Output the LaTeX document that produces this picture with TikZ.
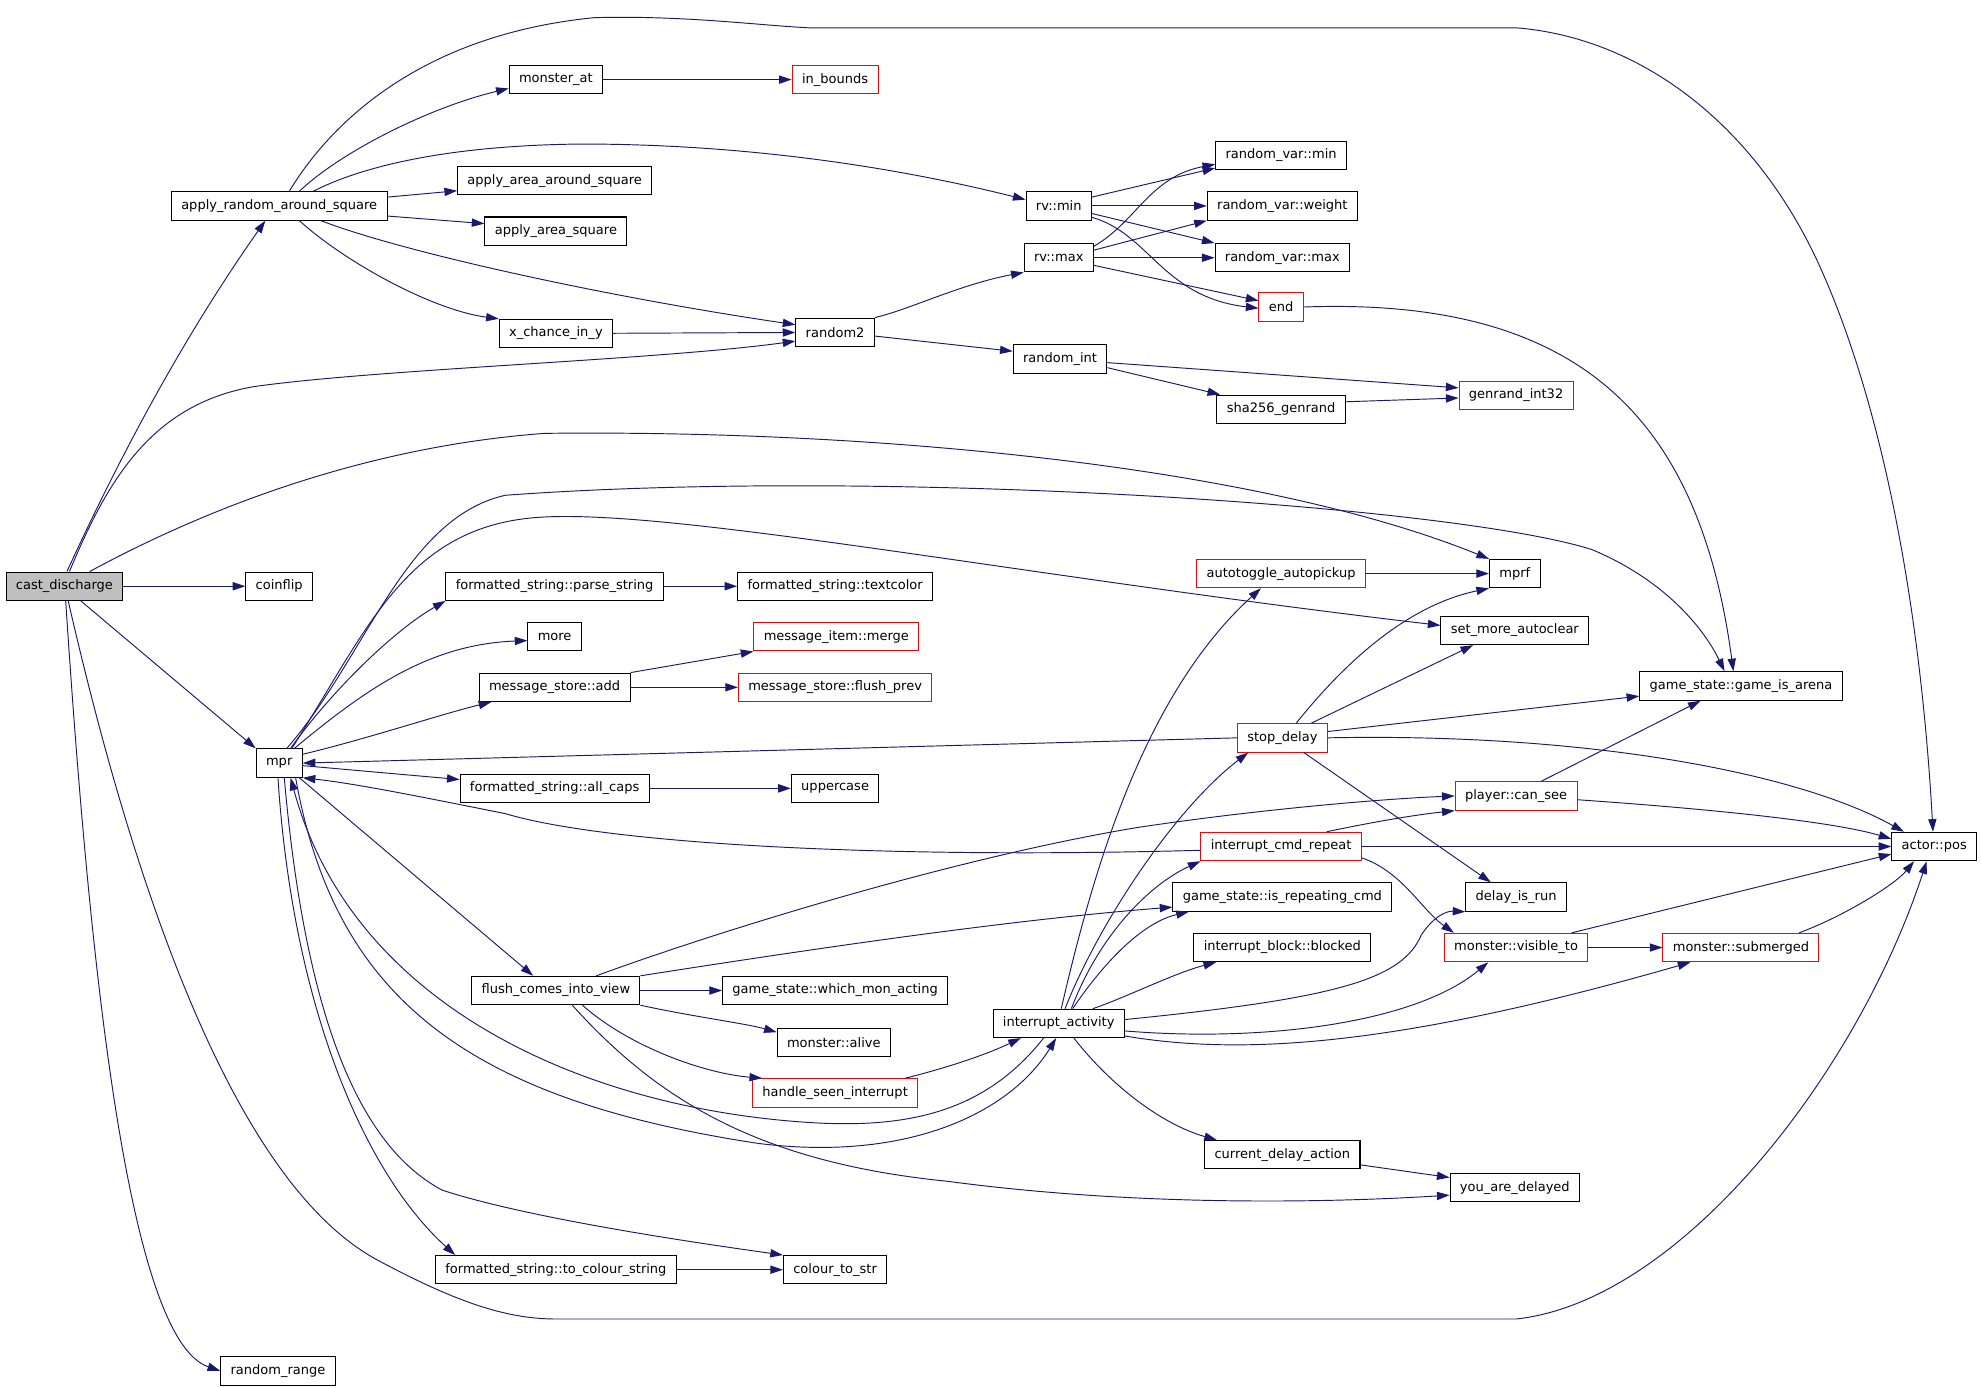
\documentclass[tikz,border=0pt]{standalone}
\usepackage{fontspec}
\setmainfont{DejaVu Sans}
\usetikzlibrary{arrows.meta}
\definecolor{edgeblue}{HTML}{191970}
\definecolor{rootgray}{HTML}{BFBFBF}

\begin{document}
\begin{tikzpicture}[x=1pt,y=-1pt,>={Triangle[length=10pt,width=6.5pt]},
    fn/.style={draw,line width=0.8pt,rectangle,minimum height=22.5pt,inner xsep=7.8pt,inner ysep=0pt,font=\fontsize{10.3}{12}\selectfont},
    fnext/.style={fn,draw=red},
    calls/.style={->,draw=edgeblue,line width=0.75pt}]
\useasboundingbox (0,0) rectangle (1568,1098.6);

\node[fn,fill=rootgray] (cast) at (51,464) {cast\_discharge};
\node[fn] (aras) at (221,163) {apply\_random\_around\_square};
\node[fn] (coinflip) at (221,464) {coinflip};
\node[fn] (mpr) at (221,604) {mpr};
\node[fn] (rrange) at (220,1085) {random\_range};
\node[fn] (monat) at (440,63) {monster\_at};
\node[fn] (aaas) at (439,143) {apply\_area\_around\_square};
\node[fn] (aas) at (440,183) {apply\_area\_square};
\node[fn] (xchance) at (440,264) {x\_chance\_in\_y};
\node[fn] (parse) at (439,464) {formatted\_string::parse\_string};
\node[fn] (more) at (439,504) {more};
\node[fn] (msadd) at (439,544) {message\_store::add};
\node[fn] (allcaps) at (439,624) {formatted\_string::all\_caps};
\node[fn] (flush) at (440,784) {flush\_comes\_into\_view};
\node[fn] (tocol) at (440,1005) {formatted\_string::to\_colour\_string};
\node[fnext] (inb) at (661,63) {in\_bounds};
\node[fn] (rand2) at (661,263) {random2};
\node[fn] (textcolor) at (661,464) {formatted\_string::textcolor};
\node[fnext] (merge) at (662,504) {message\_item::merge};
\node[fnext] (flushprev) at (661,544) {message\_store::flush\_prev};
\node[fn] (upper) at (661,624) {uppercase};
\node[fn] (whichmon) at (661,784) {game\_state::which\_mon\_acting};
\node[fn] (alive) at (660,825) {monster::alive};
\node[fnext] (hsi) at (661,865) {handle\_seen\_interrupt};
\node[fn] (colstr) at (661,1005) {colour\_to\_str};
\node[fn] (rvmin) at (838,163) {rv::min};
\node[fn] (rvmax) at (838,204) {rv::max};
\node[fn] (randint) at (839,284) {random\_int};
\node[fn] (intact) at (838,810) {interrupt\_activity};
\node[fn] (varmin) at (1014,123) {random\_var::min};
\node[fn] (weight) at (1015,163) {random\_var::weight};
\node[fn] (varmax) at (1015,204) {random\_var::max};
\node[fnext] (endn) at (1014,243) {end};
\node[fn] (sha) at (1014,324) {sha256\_genrand};
\node[fnext] (autotog) at (1014,454) {autotoggle\_autopickup};
\node[fnext] (stopd) at (1015,584) {stop\_delay};
\node[fnext] (icr) at (1014,670) {interrupt\_cmd\_repeat};
\node[fn] (isrep) at (1015,710) {game\_state::is\_repeating\_cmd};
\node[fn] (blocked) at (1015,750) {interrupt\_block::blocked};
\node[fn] (cda) at (1015,914) {current\_delay\_action};
\node[fnext] (genrand) at (1200,313) {genrand\_int32};
\node[fn] (mprf) at (1199,454) {mprf};
\node[fn] (smac) at (1199,499) {set\_more\_autoclear};
\node[fnext] (cansee) at (1200,630) {player::can\_see};
\node[fn] (dir) at (1200,710) {delay\_is\_run};
\node[fnext] (visto) at (1200,750) {monster::visible\_to};
\node[fn] (yad) at (1199,940) {you\_are\_delayed};
\node[fn] (arena) at (1378,543) {game\_state::game\_is\_arena};
\node[fnext] (subm) at (1378,750) {monster::submerged};
\node[fn] (apos) at (1531,670) {actor::pos};

\draw[calls] ([xshift=2pt]cast.north) .. controls (100,350) and (150,260) .. ([xshift=-11pt]aras.south);
\draw[calls] ([xshift=4pt]cast.north) .. controls (85,380) and (120,320) .. (201,306) .. controls (300,292) and (520,285) .. ([yshift=-7pt]rand2.west);
\draw[calls] ([xshift=20pt]cast.north) .. controls (140,415) and (270,355) .. (431,343) .. controls (700,340) and (1000,370) .. (mprf.north west);
\draw[calls] (cast) -- (coinflip);
\draw[calls] ([xshift=13pt]cast.south) -- (mpr.north west);
\draw[calls] ([xshift=1pt]cast.south) .. controls (70,750) and (100,1060) .. (rrange.west);
\draw[calls] ([xshift=3pt]cast.south) .. controls (110,720) and (190,940) .. (300,998) .. controls (360,1030) and (400,1044) .. (440,1044) -- (1200,1044) .. controls (1330,1030) and (1470,850) .. ([xshift=-6pt]apos.south);

\draw[calls] ([xshift=16pt]aras.north) .. controls (270,120) and (340,85) .. ([yshift=-7pt]monat.west);
\draw[calls] ([xshift=8pt]aras.north) .. controls (260,100) and (330,28) .. (470,14) .. controls (540,12) and (600,20) .. (640,22) -- (1200,22) .. controls (1300,30) and (1390,100) .. (1440,210) .. controls (1490,320) and (1520,480) .. ([xshift=-1pt]apos.north);
\draw[calls] ([yshift=7pt]aras.east) -- ([yshift=-8pt]aaas.west);
\draw[calls] ([yshift=-8pt]aras.east) -- ([yshift=6pt]aas.west);
\draw[calls] ([xshift=27pt]aras.north) .. controls (290,130) and (360,115) .. (460,114) .. controls (600,114) and (720,135) .. ([yshift=5pt]rvmin.west);
\draw[calls] ([xshift=16pt]aras.south) .. controls (270,205) and (340,245) .. (xchance.north west);
\draw[calls] ([xshift=33pt]aras.south) .. controls (320,200) and (480,235) .. ([yshift=6pt]rand2.west);
\draw[calls] (monat) -- (inb);
\draw[calls] (xchance) -- (rand2);

\draw[calls] (rand2.north east) .. controls (720,245) and (760,225) .. (rvmax.south west);
\draw[calls] ([yshift=-3pt]rand2.east) -- ([yshift=6pt]randint.west);
\draw[calls] ([yshift=7pt]rvmin.east) -- ([yshift=-10pt]varmin.west);
\draw[calls] (rvmin) -- (weight);
\draw[calls] ([yshift=-6pt]rvmin.east) -- (varmax.north west);
\draw[calls] ([yshift=-9pt]rvmin.east) .. controls (910,185) and (920,235) .. ([yshift=-1pt]endn.west);
\draw[calls] ([yshift=9pt]rvmax.east) .. controls (900,175) and (910,140) .. ([yshift=-7pt]varmin.west);
\draw[calls] ([yshift=6pt]rvmax.east) -- (weight.south west);
\draw[calls] (rvmax) -- (varmax);
\draw[calls] ([yshift=-6pt]rvmax.east) -- ([yshift=5pt]endn.west);
\draw[calls] ([yshift=-3pt]randint.east) -- ([yshift=6pt]genrand.west);
\draw[calls] ([yshift=-7pt]randint.east) -- ([xshift=3pt]sha.north west);
\draw[calls] ([yshift=6pt]sha.east) -- ([yshift=-2pt]genrand.west);
\draw[calls] (endn.east) .. controls (1250,235) and (1345,330) .. ([xshift=-6pt]arena.north);

\draw[calls] ([xshift=9pt]mpr.north) .. controls (260,550) and (310,500) .. (parse.south west);
\draw[calls] ([xshift=12pt]mpr.north) .. controls (290,545) and (340,510) .. ([yshift=-3pt]more.west);
\draw[calls] ([yshift=7pt]mpr.east) .. controls (290,585) and (350,565) .. ([xshift=10pt]msadd.south west);
\draw[calls] ([yshift=-2pt]mpr.east) -- ([yshift=7pt]allcaps.west);
\draw[calls] ([xshift=16pt]mpr.south) -- ([xshift=-18pt]flush.north);
\draw[calls] ([xshift=-1pt]mpr.south) .. controls (232,800) and (290,930) .. ([xshift=16pt]tocol.north west);
\draw[calls] ([xshift=4pt]mpr.south) .. controls (243,820) and (290,910) .. (350,942) .. controls (420,965) and (560,985) .. (colstr.north west);
\draw[calls] ([xshift=13pt]mpr.south) .. controls (265,790) and (370,870) .. (600,905) .. controls (720,920) and (800,880) .. ([xshift=-2pt]intact.south);
\draw[calls] ([xshift=6pt]mpr.north) .. controls (290,520) and (320,410) .. (400,392) .. controls (700,370) and (1150,400) .. (1260,435) .. controls (1320,460) and (1350,500) .. ([xshift=-13pt]arena.north);
\draw[calls] ([xshift=10pt]mpr.north) .. controls (290,500) and (320,420) .. (420,410) .. controls (520,400) and (800,455) .. ([yshift=4pt]smac.west);
\draw[calls] (parse) -- (textcolor);
\draw[calls] (msadd.north east) -- (merge.south west);
\draw[calls] (msadd) -- (flushprev);
\draw[calls] (allcaps) -- (upper);
\draw[calls] (tocol) -- (colstr);

\draw[calls] (flush) -- (whichmon);
\draw[calls] (flush.south east) .. controls (550,805) and (590,810) .. ([yshift=8pt]alive.west);
\draw[calls] ([xshift=21pt]flush.south) .. controls (500,830) and (560,850) .. ([xshift=8pt]hsi.north west);
\draw[calls] ([xshift=13pt]flush.south) .. controls (520,870) and (600,920) .. (750,935) .. controls (900,955) and (1050,952) .. ([yshift=-6pt]yad.west);
\draw[calls] ([xshift=32pt]flush.north) .. controls (560,740) and (750,680) .. (900,655) .. controls (1000,640) and (1100,632) .. (cansee.west);
\draw[calls] (flush.north east) .. controls (650,750) and (800,728) .. ([yshift=-8pt]isrep.west);
\draw[calls] ([xshift=-10pt]hsi.north east) .. controls (750,845) and (780,835) .. ([xshift=-30pt]intact.south);

\draw[calls] ([xshift=-12pt]intact.south) .. controls (780,880) and (720,892) .. (650,889) .. controls (470,880) and (280,800) .. ([xshift=9pt]mpr.south);
\draw[calls] ([xshift=2pt]intact.north) .. controls (865,690) and (905,550) .. ([xshift=-16pt]autotog.south);
\draw[calls] ([xshift=5pt]intact.north) .. controls (870,730) and (930,640) .. ([xshift=-27pt]stopd.south);
\draw[calls] ([xshift=10pt]intact.north) .. controls (870,740) and (910,700) .. (icr.south west);
\draw[calls] ([xshift=11pt]intact.north) .. controls (875,760) and (905,730) .. ([xshift=13pt]isrep.south west);
\draw[calls] ([xshift=27pt]intact.north) .. controls (890,790) and (930,770) .. ([xshift=18pt]blocked.south west);
\draw[calls] ([yshift=3pt]intact.east) .. controls (1060,790) and (1110,775) .. (1125,740) .. controls (1135,725) and (1145,721) .. (dir.south west);
\draw[calls] ([yshift=-6pt]intact.east) .. controls (1000,825) and (1120,810) .. ([xshift=-22pt]visto.south);
\draw[calls] ([yshift=-10pt]intact.east) .. controls (980,835) and (1100,830) .. ([xshift=-40pt]subm.south);
\draw[calls] ([xshift=12pt]intact.south) .. controls (880,860) and (920,890) .. ([xshift=10pt]cda.north west);
\draw[calls] ([yshift=-8pt]cda.east) -- ([yshift=8pt]yad.west);

\draw[calls] (autotog) -- (mprf);
\draw[calls] (stopd.west) -- (mpr.east);
\draw[calls] ([xshift=11pt]stopd.north) .. controls (1060,530) and (1110,480) .. (mprf.south west);
\draw[calls] ([xshift=23pt]stopd.north) -- ([xshift=-33pt]smac.south);
\draw[calls] ([yshift=5pt]stopd.east) -- ([yshift=-8pt]arena.west);
\draw[calls] (stopd.east) .. controls (1250,580) and (1420,610) .. ([xshift=-24pt]apos.north);
\draw[calls] ([xshift=17pt]stopd.south) -- ([xshift=-20pt]dir.north);

\draw[calls] ([yshift=-3pt]icr.west) .. controls (700,680) and (480,668) .. (400,644) .. controls (330,630) and (280,620) .. (mpr.south east);
\draw[calls] ([xshift=36pt]icr.north) .. controls (1090,650) and (1120,645) .. (cansee.south west);
\draw[calls] (icr) -- (apos);
\draw[calls] ([yshift=-9pt]icr.east) .. controls (1110,690) and (1125,720) .. ([xshift=8pt]visto.north west);

\draw[calls] ([xshift=20pt]cansee.north) -- ([xshift=-32pt]arena.south);
\draw[calls] ([yshift=-3pt]cansee.east) .. controls (1350,640) and (1450,650) .. ([yshift=6pt]apos.west);
\draw[calls] (visto) -- (subm);
\draw[calls] ([xshift=44pt]visto.north) -- ([yshift=-6pt]apos.west);
\draw[calls] ([xshift=46pt]subm.north) .. controls (1460,725) and (1500,700) .. ([xshift=-16pt]apos.south);

\end{tikzpicture}
\end{document}
